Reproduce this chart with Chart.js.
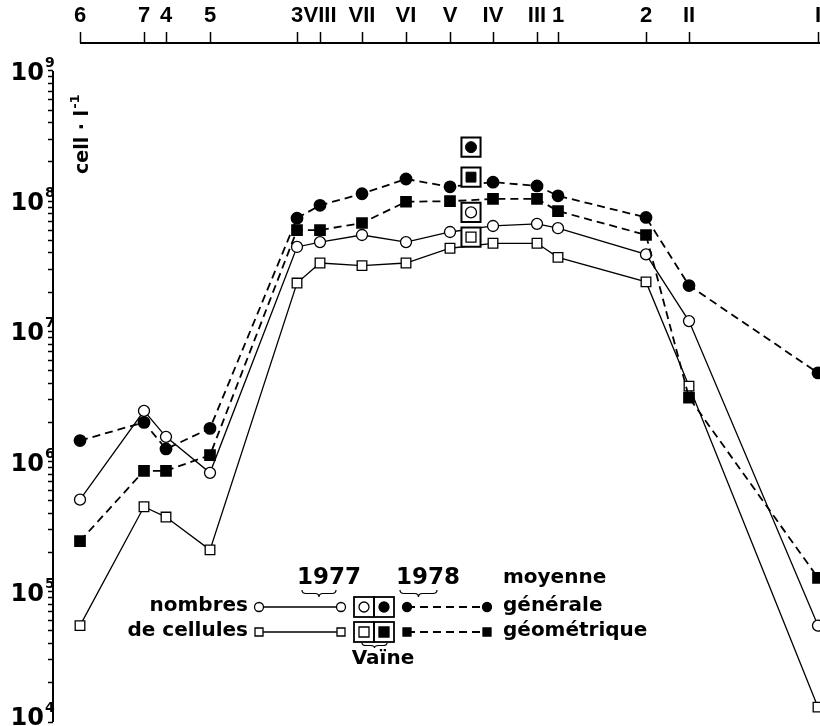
<!DOCTYPE html>
<html>
<head>
<meta charset="utf-8">
<script src="https://cdn.jsdelivr.net/npm/chart.js@4/dist/chart.umd.min.js"></script>
<style>
	html, body { margin: 0; padding: 0; background: #fff; }
	#wrap { width: 820px; height: 726px; }
</style>
</head>
<body>
<div id="wrap"><canvas id="chartlake"></canvas></div>
<script>
// stations along the lake and their distance from station 6 (estimated)
var stations = ["6", "7", "4", "5", "3", "VIII", "VII", "VI", "V", "IV", "III", "1", "2", "II", "I"];
var distance = [0, 64, 86, 130, 217, 240, 282, 326, 370, 413, 457, 478, 566, 609, 738];

// cell.l-1, 1977 (open marks, solid line) and 1978 (filled marks, dashed line)
var arith1977 = [5.1e5, 2.45e6, 1.55e6, 8.2e5, 4.45e7, 4.85e7, 5.5e7, 4.85e7, 5.8e7, 6.45e7, 6.7e7, 6.2e7, 3.9e7, 1.2e7, 5.5e4];
var geom1977 = [5.5e4, 4.5e5, 3.75e5, 2.1e5, 2.35e7, 3.35e7, 3.2e7, 3.35e7, 4.35e7, 4.75e7, 4.75e7, 3.7e7, 2.4e7, 3.8e6, 1.3e4];
var arith1978 = [1.45e6, 2.0e6, 1.25e6, 1.8e6, 7.4e7, 9.3e7, 1.14e8, 1.48e8, 1.29e8, 1.4e8, 1.31e8, 1.1e8, 7.5e7, 2.25e7, 4.8e6];
var geom1978 = [2.45e5, 8.5e5, 8.5e5, 1.12e6, 6.0e7, 6.0e7, 6.8e7, 9.9e7, 1.0e8, 1.04e8, 1.04e8, 8.4e7, 5.5e7, 3.1e6, 1.28e5];

// Vaïne (boxed marks), between V and IV : [moyenne générale, moyenne géométrique]
var vaineDistance = 391;
var vaine1977 = [8.2e7, 5.3e7];
var vaine1978 = [2.6e8, 1.53e8];

// y axis decades and minor steps
var decades = [4, 5, 6, 7, 8, 9];
var minorSteps = [1, 2, 3, 4, 5, 6, 7, 8, 9];

var FONT = "'DejaVu Sans', sans-serif";
var FONT_TOP = "'Liberation Sans', Arial, sans-serif";

function toPoints(values) {
	var pts = [];
	for (var i = 0; i < values.length; i++) {
		pts.push({ x: distance[i], y: values[i] });
	}
	return pts;
}
function vainePoints(values) {
	return values.map(function (v) { return { x: vaineDistance, y: v }; });
}

function drawMark(ctx, kind, x, y, r) {
	ctx.save();
	ctx.lineWidth = 1.3;
	ctx.strokeStyle = "#000";
	ctx.fillStyle = (kind == "oc" || kind == "os") ? "#fff" : "#000";
	ctx.beginPath();
	if (kind == "oc" || kind == "fc") {
		ctx.arc(x, y, r, 0, Math.PI * 2);
	} else {
		ctx.rect(x - r, y - r, 2 * r, 2 * r);
	}
	ctx.fill();
	ctx.stroke();
	ctx.restore();
}

function brace(ctx, x1, x2, y, h) {
	var xm = (x1 + x2) / 2;
	var q = 4;
	ctx.beginPath();
	ctx.moveTo(x1, y);
	ctx.quadraticCurveTo(x1, y + h / 2, x1 + q, y + h / 2);
	ctx.lineTo(xm - q, y + h / 2);
	ctx.quadraticCurveTo(xm, y + h / 2, xm, y + h);
	ctx.quadraticCurveTo(xm, y + h / 2, xm + q, y + h / 2);
	ctx.lineTo(x2 - q, y + h / 2);
	ctx.quadraticCurveTo(x2, y + h / 2, x2, y);
	ctx.stroke();
}

var decor = {
	id: "decor",
	afterDraw: function (chart) {
		var ctx = chart.ctx;
		var xs = chart.scales.x;
		var ys = chart.scales.y;
		var area = chart.chartArea;
		ctx.save();
		ctx.strokeStyle = "#000";
		ctx.fillStyle = "#000";

		// axis lines
		ctx.lineWidth = 2;
		ctx.beginPath();
		ctx.moveTo(area.left, ys.getPixelForValue(1e9));
		ctx.lineTo(area.left, ys.getPixelForValue(1e4));
		ctx.stroke();
		ctx.beginPath();
		ctx.moveTo(xs.getPixelForValue(distance[0]), area.top);
		ctx.lineTo(area.right, area.top);
		ctx.stroke();

		// y labels 10^n
		for (var i = 0; i < decades.length; i++) {
			var py = ys.getPixelForValue(Math.pow(10, decades[i]));
			var base = Math.min(py + 9, 725);
			ctx.font = "bold 24px " + FONT;
			ctx.textAlign = "right";
			ctx.textBaseline = "alphabetic";
			ctx.fillText("10", 44, base);
			ctx.font = "bold 14px " + FONT;
			ctx.textAlign = "left";
			ctx.fillText(String(decades[i]), 45, base - 13);
		}

		// unit, rotated inside the plot
		ctx.save();
		ctx.translate(88, 174);
		ctx.rotate(-Math.PI / 2);
		ctx.textAlign = "left";
		ctx.font = "bold 19px " + FONT;
		ctx.fillText("cell · l", 0, 0);
		var w = ctx.measureText("cell · l").width;
		ctx.font = "bold 13px " + FONT;
		ctx.fillText("-1", w + 1, -9);
		ctx.restore();

		// legend
		ctx.textBaseline = "middle";
		ctx.font = "bold 23px " + FONT;
		ctx.textAlign = "center";
		ctx.fillText("1977", 329, 578);
		ctx.fillText("1978", 428, 578);
		ctx.lineWidth = 1.2;
		brace(ctx, 302, 336, 590, 7);
		brace(ctx, 400, 437, 590, 7);

		ctx.font = "bold 20px " + FONT;
		ctx.textAlign = "right";
		ctx.fillText("nombres", 248, 606);
		ctx.fillText("de cellules", 248, 631);
		ctx.textAlign = "left";
		ctx.fillText("moyenne", 503, 578);
		ctx.fillText("générale", 503, 606);
		ctx.fillText("géométrique", 503, 631);

		var rows = [[607, "oc", "fc"], [632, "os", "fs"]];
		for (var r = 0; r < rows.length; r++) {
			var ry = rows[r][0];
			ctx.lineWidth = 1.3;
			ctx.setLineDash([]);
			ctx.beginPath();
			ctx.moveTo(259, ry);
			ctx.lineTo(341, ry);
			ctx.stroke();
			ctx.setLineDash([8, 5]);
			ctx.lineWidth = 1.8;
			ctx.beginPath();
			ctx.moveTo(407, ry);
			ctx.lineTo(487, ry);
			ctx.stroke();
			ctx.setLineDash([]);
			var rr = rows[r][1] == "oc" ? 4.5 : 4;
			drawMark(ctx, rows[r][1], 259, ry, rr);
			drawMark(ctx, rows[r][1], 341, ry, rr);
			drawMark(ctx, rows[r][2], 407, ry, rr);
			drawMark(ctx, rows[r][2], 487, ry, rr);
			ctx.lineWidth = 1.8;
			ctx.strokeRect(354, ry - 10, 20, 20);
			ctx.strokeRect(374, ry - 10, 20, 20);
			drawMark(ctx, rows[r][1], 364, ry, 5);
			drawMark(ctx, rows[r][2], 384, ry, 5);
		}
		ctx.lineWidth = 1.2;
		brace(ctx, 362, 387, 643, 5);
		ctx.font = "bold 20px " + FONT;
		ctx.textAlign = "center";
		ctx.fillText("Vaïne", 383, 659);
		ctx.restore();
	}
};

function CreateChart() {
	var solid = { borderColor: "#000", borderWidth: 1.3, pointBorderColor: "#000", pointBorderWidth: 1.3, showLine: true, clip: false };
	var dashed = { borderColor: "#000", borderWidth: 1.8, borderDash: [8, 5], pointBorderColor: "#000", showLine: true, clip: false };
	var config = {
		type: "scatter",
		data: {
			datasets: [
				{ label: "Vaïne 1978", data: vainePoints(vaine1978), pointStyle: ["circle", "rect"], pointRadius: [5.5, 7], backgroundColor: "#000", pointBorderColor: "#000", order: 0, clip: false },
				{ label: "Vaïne 1977", data: vainePoints(vaine1977), pointStyle: ["circle", "rect"], pointRadius: [5.5, 7], backgroundColor: "#fff", pointBorderColor: "#000", pointBorderWidth: 1.3, order: 0, clip: false },
				{ label: "Vaïne cadre", data: vainePoints(vaine1978.concat(vaine1977)), pointStyle: "rect", pointRadius: 13.5, backgroundColor: "#fff", pointBorderColor: "#000", pointBorderWidth: 2, order: 1, clip: false },
				Object.assign({ label: "1978 moyenne générale", data: toPoints(arith1978), pointStyle: "circle", pointRadius: 5.5, backgroundColor: "#000", order: 2 }, dashed),
				Object.assign({ label: "1978 moyenne géométrique", data: toPoints(geom1978), pointStyle: "rect", pointRadius: 7, backgroundColor: "#000", order: 3 }, dashed),
				Object.assign({ label: "1977 moyenne générale", data: toPoints(arith1977), pointStyle: "circle", pointRadius: 5.5, backgroundColor: "#fff", order: 4 }, solid),
				Object.assign({ label: "1977 moyenne géométrique", data: toPoints(geom1977), pointStyle: "rect", pointRadius: 6.8, backgroundColor: "#fff", order: 5 }, solid)
			]
		},
		options: {
			responsive: true,
			maintainAspectRatio: false,
			animation: false,
			layout: { autoPadding: false, padding: { left: 0, right: 0, top: 0, bottom: 4 } },
			plugins: { legend: { display: false }, tooltip: { enabled: false } },
			scales: {
				x: {
					type: "linear",
					position: "top",
					min: -27,
					max: 740,
					afterBuildTicks: function (scale) {
						scale.ticks = distance.map(function (d) { return { value: d }; });
					},
					afterFit: function (scale) {
						scale.height = 43;
						scale.paddingLeft = 0;
						scale.paddingRight = 0;
					},
					ticks: {
						autoSkip: false,
						maxRotation: 0,
						padding: 3,
						color: "#000",
						font: { family: FONT_TOP, size: 22, weight: "bold" },
						callback: function (val) {
							var k = distance.indexOf(val);
							return k >= 0 ? stations[k] : "";
						}
					},
					grid: { drawOnChartArea: false, drawTicks: true, tickLength: 11, tickWidth: 1.5, tickColor: "#000" },
					border: { display: false }
				},
				y: {
					type: "logarithmic",
					min: 1e4,
					max: 1.64e9, // headroom above 10^9 for the station axis
					afterBuildTicks: function (scale) {
						var t = [];
						for (var i = 0; i < decades.length - 1; i++) {
							for (var j = 0; j < minorSteps.length; j++) {
								t.push({ value: minorSteps[j] * Math.pow(10, decades[i]) });
							}
						}
						t.push({ value: Math.pow(10, decades[decades.length - 1]) });
						scale.ticks = t;
					},
					afterFit: function (scale) {
						scale.width = 53;
						scale.paddingTop = 0;
						scale.paddingBottom = 0;
					},
					ticks: { display: false },
					grid: { drawOnChartArea: false, drawTicks: true, tickLength: 5, tickWidth: 1.5, tickColor: "#000" },
					border: { display: false }
				}
			}
		},
		plugins: [decor]
	};
	var chartctx = document.getElementById("chartlake").getContext("2d");
	window.chartlake = new Chart(chartctx, config);
}
CreateChart();
</script>
</body>
</html>
